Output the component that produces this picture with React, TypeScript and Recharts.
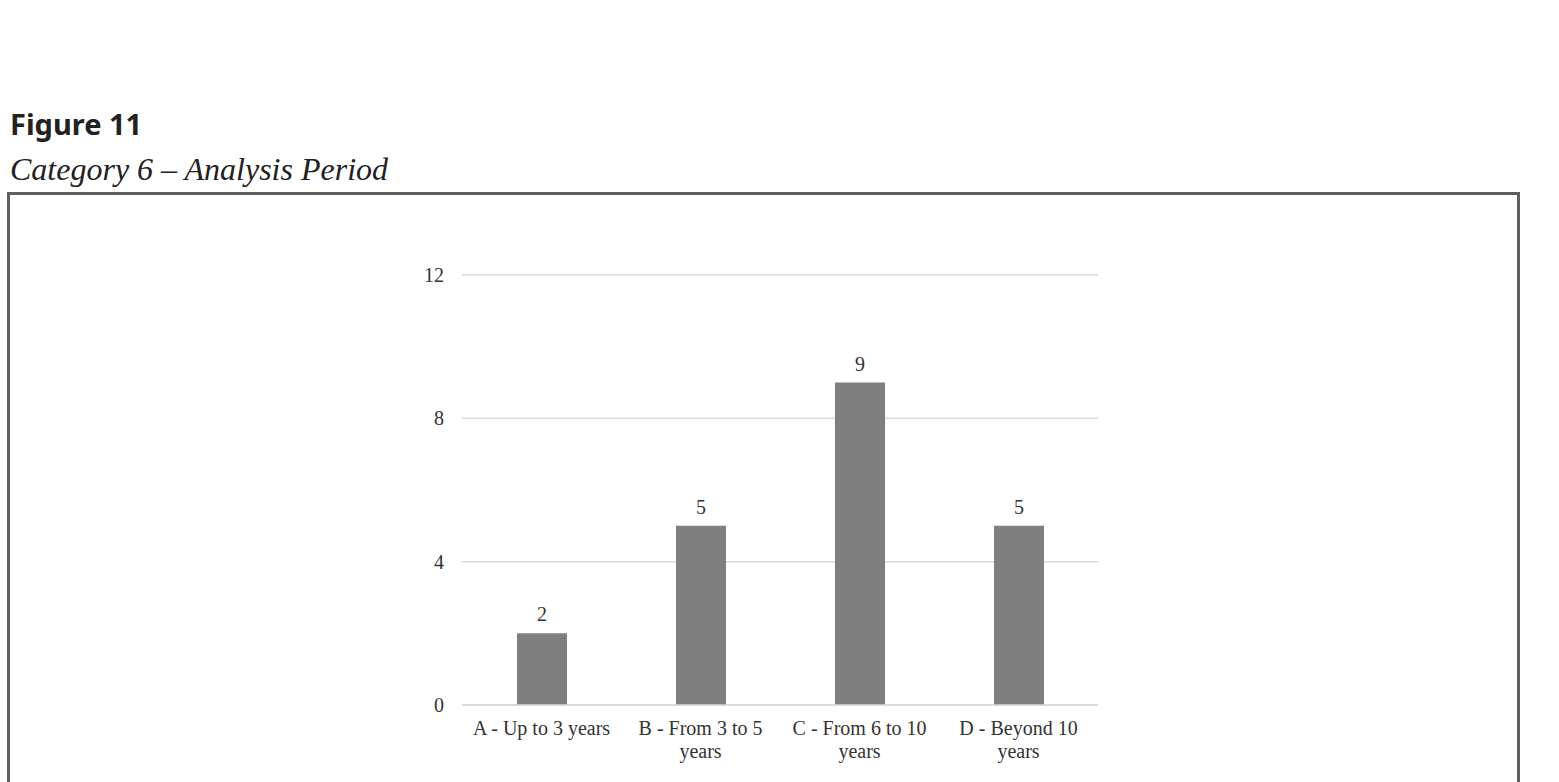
import { BarChart, Bar, XAxis, YAxis, CartesianGrid, LabelList } from 'recharts';

const categories = ['A - Up to 3 years', 'B - From 3 to 5 years', 'C - From 6 to 10 years', 'D - Beyond 10 years'];
const counts = [2, 5, 9, 5];
const yTicks = [0, 4, 8, 12];
// how the category labels wrap under the axis
const tickLines: Record<string, string[]> = {
  'A - Up to 3 years': ['A - Up to 3 years'],
  'B - From 3 to 5 years': ['B - From 3 to 5', 'years'],
  'C - From 6 to 10 years': ['C - From 6 to 10', 'years'],
  'D - Beyond 10 years': ['D - Beyond 10', 'years'],
};

const data = categories.map((name, i) => ({ name, count: counts[i] }));

const serif = '"Liberation Serif", "Times New Roman", serif';
const textColor = '#333333';

const XTick = (props: any) => {
  const { x, y, payload } = props;
  const lines = tickLines[payload.value] || [payload.value];
  return (
    <text x={x} y={y} textAnchor="middle" fill={textColor} fontSize={20} fontFamily={serif}>
      {lines.map((line, i) => (
        <tspan key={i} x={x} dy={i === 0 ? 22 : 23}>
          {line}
        </tspan>
      ))}
    </text>
  );
};

export default function App() {
  return (
    <div style={{ position: 'absolute', left: 0, top: 0, width: 1559, height: 782, overflow: 'hidden', background: '#fff' }}>
      {/* frame around the chart, runs off the bottom */}
      <div
        style={{
          position: 'absolute',
          left: 7,
          top: 192,
          width: 1513,
          height: 700,
          border: '3px solid #5f5f5f',
          boxSizing: 'border-box',
        }}
      />
      <svg width={1559} height={200} style={{ position: 'absolute', left: 0, top: 0 }}>
        <text x={10} y={135} fontFamily='"Noto Sans", sans-serif' fontWeight={700} fontSize={29} fill="#222">
          Figure 11
        </text>
        <text x={10} y={180} fontFamily={serif} fontStyle="italic" fontSize={32} fill="#222">
          Category 6 – Analysis Period
        </text>
      </svg>
      <div style={{ position: 'absolute', left: 0, top: 0 }}>
        <BarChart width={1559} height={782} data={data} margin={{ top: 275, right: 461, bottom: 0, left: 402 }}>
          <CartesianGrid vertical={false} stroke="#d9d9d9" strokeWidth={1.5} />
          <XAxis
            dataKey="name"
            interval={0}
            tickLine={false}
            axisLine={{ stroke: '#d9d9d9', strokeWidth: 1.5 }}
            tick={<XTick />}
            tickMargin={2}
            height={77}
          />
          <YAxis
            width={60}
            domain={[0, 12]}
            ticks={yTicks}
            axisLine={false}
            tickLine={false}
            tickMargin={12}
            tick={{ fontSize: 20, fontFamily: serif, fill: textColor }}
          />
          <Bar dataKey="count" fill="#7f7f7f" barSize={50} isAnimationActive={false}>
            <LabelList
              dataKey="count"
              position="top"
              offset={12}
              style={{ fontSize: 20, fontFamily: serif, fill: textColor }}
            />
          </Bar>
        </BarChart>
      </div>
    </div>
  );
}
